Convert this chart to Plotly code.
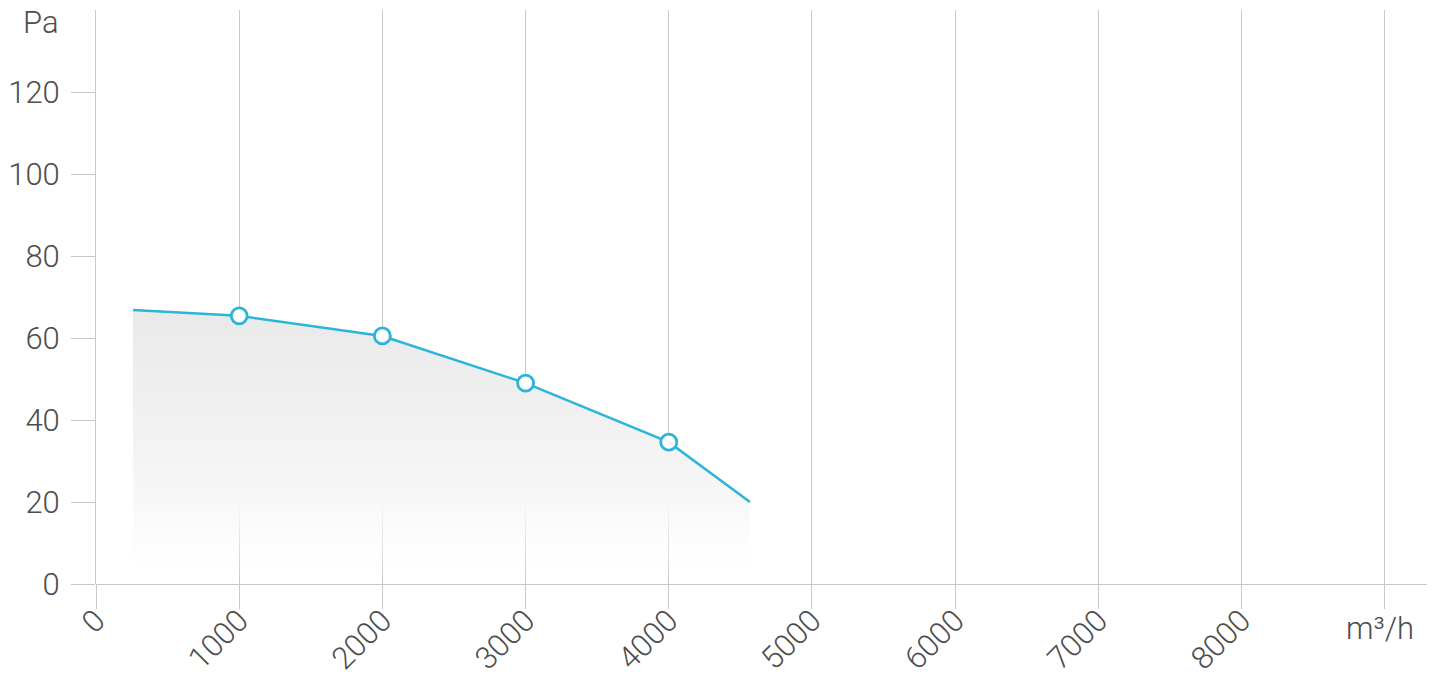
import plotly.graph_objects as go

# data
flow = [258, 1000, 2000, 3000, 4000, 4567]
pressure = [66.8, 65.4, 60.5, 49.0, 34.6, 20.0]
marker_x = [1000, 2000, 3000, 4000]
marker_y = [65.4, 60.5, 49.0, 34.6]
x_ticks = [0, 1000, 2000, 3000, 4000, 5000, 6000, 7000, 8000, 9000]
x_ticktext = ["0", "1000", "2000", "3000", "4000", "5000", "6000", "7000", "8000", ""]
y_ticks = [0, 20, 40, 60, 80, 100, 120]
y_unit = "Pa"
x_unit = "m³/h"

LINE = "#2bb5d8"
TXT = "#4d4d4d"
GRID = "#c8c8c8"
FONT = "Roboto"
FS = 31

fig = go.Figure()
fig.add_trace(go.Scatter(
    x=flow, y=pressure, mode="lines",
    line=dict(color=LINE, width=2.5),
    fill="tozeroy",
    fillgradient=dict(type="vertical", start=0, stop=68,
                      colorscale=[[0, "rgba(255,255,255,0)"], [0.3, "rgba(247,247,247,1)"], [1, "rgba(233,233,233,1)"]]),
    hoverinfo="skip", showlegend=False,
))
fig.add_trace(go.Scatter(
    x=marker_x, y=marker_y, mode="markers",
    marker=dict(size=16, color="white", line=dict(color=LINE, width=2.8)),
    showlegend=False,
))

tf = dict(family=FONT, size=FS, color=TXT, weight=300)
fig.update_layout(
    width=1432, height=683,
    margin=dict(l=96, r=5, t=10, b=99, autoexpand=False),
    paper_bgcolor="white", plot_bgcolor="white",
    font=tf,
    xaxis=dict(
        range=[0, 9295], tickvals=x_ticks, ticktext=x_ticktext, tickangle=-45,
        showgrid=True, gridcolor=GRID, gridwidth=1,
        ticks="outside", ticklen=24, tickcolor=GRID, tickwidth=1,
        showline=False, zeroline=False, automargin=False,
        ticklabelstandoff=-19,
        tickfont=tf,
    ),
    yaxis=dict(
        range=[0, 140], tickvals=y_ticks,
        showgrid=False, zeroline=True, zerolinecolor=GRID, zerolinewidth=1,
        showline=True, linecolor=GRID, linewidth=1,
        ticks="outside", ticklen=24, tickcolor=GRID, tickwidth=1,
        ticklabelstandoff=5, automargin=False,
        tickfont=tf,
    ),
)

fig.add_annotation(text=y_unit, xref="paper", x=-0.0265, xanchor="right",
                   yref="y", y=137, yanchor="middle", showarrow=False, font=tf)
fig.add_annotation(text=x_unit, xref="x", x=8965, xanchor="center",
                   yref="paper", y=-0.0767, yanchor="middle", showarrow=False, font=tf)

fig.write_html("out.html", config={"displayModeBar": False},
               post_script="document.body.style.margin='0';document.body.style.padding='0';")
